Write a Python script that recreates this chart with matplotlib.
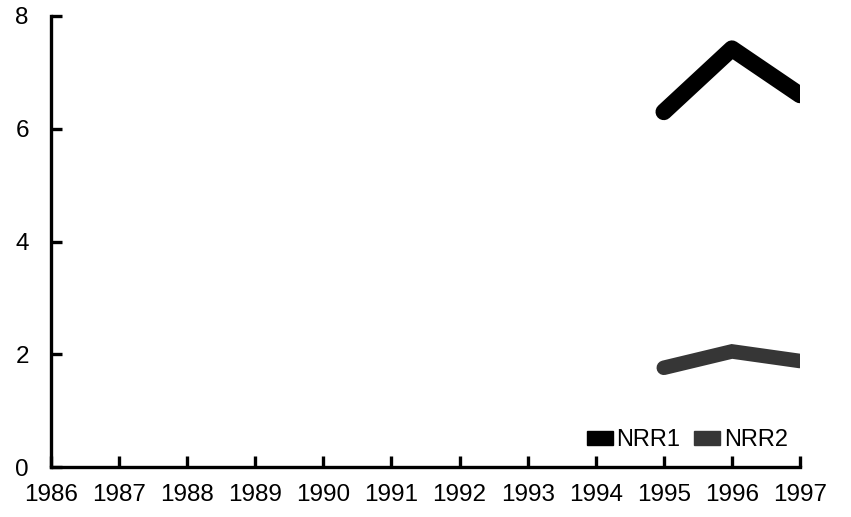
import matplotlib.pyplot as plt
from matplotlib.patches import Patch

plt.rcParams['font.family'] = ['Liberation Sans', 'DejaVu Sans']

years = list(range(1986, 1998))
nrr_years = [1995, 1996, 1997]
nrr1 = [6.3, 7.42, 6.6]
nrr2 = [1.76, 2.05, 1.88]
series_names = ["NRR1", "NRR2"]
colors = ["#000000", "#363636"]

fig = plt.figure(figsize=(8.51, 5.17), dpi=100)
ax = fig.add_axes([51 / 851, 50 / 517, 749 / 851, 451 / 517])

ax.plot(nrr_years, nrr1, color=colors[0], lw=12, solid_capstyle="round",
        solid_joinstyle="round")
ax.plot(nrr_years, nrr2, color=colors[1], lw=10.5, solid_capstyle="round",
        solid_joinstyle="miter")

ax.set_xlim(1986, 1997)
ax.set_ylim(0, 8)
ax.set_xticks(years)
ax.set_xticklabels([str(y) for y in years])
ax.set_yticks([0, 2, 4, 6, 8])

for s in ("top", "right"):
    ax.spines[s].set_visible(False)
for s in ("left", "bottom"):
    ax.spines[s].set_linewidth(2.4)
ax.tick_params(axis="both", direction="in", length=8, width=2.4,
               labelsize=17.5, colors="black")
ax.tick_params(axis="y", pad=16)
ax.tick_params(axis="x", pad=12.5)

handles = [Patch(facecolor=c, edgecolor=c) for c in colors]
ax.legend(handles, series_names, loc="lower left", bbox_to_anchor=(0.715, 0.035),
          ncol=2, frameon=False, fontsize=17, handlelength=1.1,
          handleheight=0.5, handletextpad=0.15, columnspacing=0.6,
          borderpad=0, borderaxespad=0)

fig.savefig("out.png", dpi=100)
